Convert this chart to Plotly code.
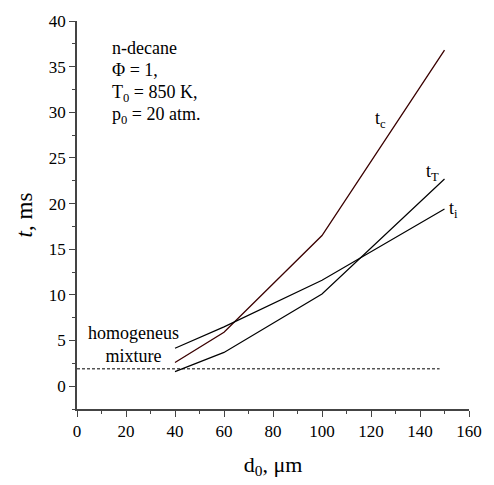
import plotly.graph_objects as go

d0 = [40, 60, 100, 150]
t_c = [2.6, 5.9, 16.5, 36.8]
t_T = [1.6, 3.7, 10.1, 22.7]
t_i = [4.15, 6.5, 11.6, 19.4]
homog_x = [0, 148]
homog_y = [1.9, 1.9]
info_lines = ["n-decane", "Φ = 1,", "T<sub>0</sub> = 850 K,", "p<sub>0</sub> = 20 atm."]
info_y = [37.0, 34.6, 32.1, 29.7]

FONT = "Liberation Serif, Times New Roman, serif"

fig = go.Figure()
fig.add_trace(go.Scatter(x=d0, y=t_c, mode="lines", line=dict(color="#3a0000", width=1.3), showlegend=False))
fig.add_trace(go.Scatter(x=d0, y=t_T, mode="lines", line=dict(color="black", width=1.2), showlegend=False))
fig.add_trace(go.Scatter(x=d0, y=t_i, mode="lines", line=dict(color="black", width=1.2), showlegend=False))
fig.add_trace(go.Scatter(x=homog_x, y=homog_y, mode="lines", line=dict(color="black", width=1, dash="3px,2px"), showlegend=False))

axis_common = dict(
    showgrid=False, zeroline=False, showline=True, linecolor="#444", linewidth=1.5,
    ticks="outside", ticklen=6, tickwidth=1.2, tickcolor="#444",
    tickfont=dict(family=FONT, size=17, color="black"),
)

fig.update_xaxes(range=[0, 160], tickvals=[0, 20, 40, 60, 80, 100, 120, 140, 160],
                 minor=dict(ticks="outside", ticklen=3, tickcolor="#444", dtick=10, tick0=0),
                 title=dict(text="d<sub>0</sub>, μm", font=dict(family=FONT, size=22, color="black"), standoff=16),
                 **axis_common)
fig.update_yaxes(range=[-2.5, 40], tickvals=[0, 5, 10, 15, 20, 25, 30, 35, 40],
                 minor=dict(ticks="outside", ticklen=3, tickcolor="#444", dtick=2.5, tick0=0),
                 title=dict(text="<i>t</i>, ms", font=dict(family=FONT, size=23, color="black"), standoff=10),
                 **axis_common)

ann_font = dict(family=FONT, size=18, color="black")
for txt, yy in zip(info_lines, info_y):
    fig.add_annotation(x=13.4, y=yy, text=txt, xanchor="left", yanchor="middle", align="left",
                       showarrow=False, font=ann_font)
anns = [
    dict(x=124, y=29.2, text="t<sub>c</sub>", xanchor="center", yanchor="middle"),
    dict(x=145, y=23.4, text="t<sub>T</sub>", xanchor="center", yanchor="middle"),
    dict(x=153.5, y=19.3, text="t<sub>i</sub>", xanchor="center", yanchor="middle"),
    dict(x=23, y=4.6, text="homogeneus<br>mixture", xanchor="center", yanchor="middle", align="center"),
]
for a in anns:
    fig.add_annotation(showarrow=False, font=ann_font, **a)

fig.update_layout(
    width=494, height=485,
    margin=dict(l=77, r=17, t=17, b=68),
    plot_bgcolor="white", paper_bgcolor="white",
    font=dict(family=FONT),
)
fig.write_html("out.html")
